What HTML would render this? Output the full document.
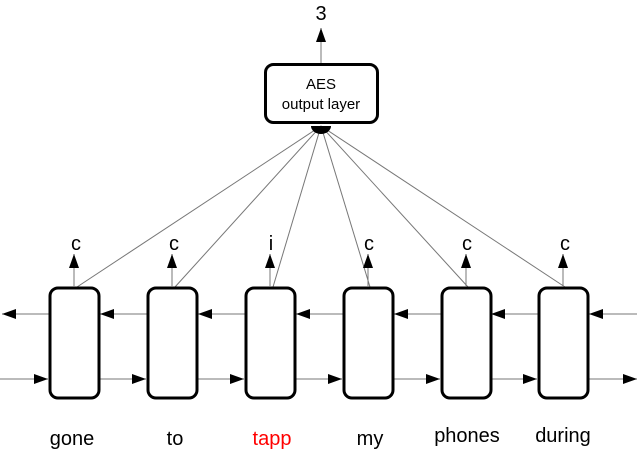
<!DOCTYPE html>
<html><head><style>body{margin:0;background:#fff}svg{display:block}</style></head><body>
<svg width="640" height="454" viewBox="0 0 640 454" xmlns="http://www.w3.org/2000/svg" font-family="Liberation Sans, sans-serif">
<defs>
<marker id="a" markerWidth="10" markerHeight="8" refX="10" refY="4" orient="auto" markerUnits="userSpaceOnUse"><path d="M0,0 L10,4 L0,8 z" fill="#000"/></marker>
<marker id="b" markerWidth="14" markerHeight="10" refX="14" refY="5" orient="auto" markerUnits="userSpaceOnUse"><path d="M0,0 L14,5 L0,10 z" fill="#000"/></marker>
</defs>
<g stroke="#777" stroke-width="1">
<line x1="321" y1="126" x2="77" y2="287"/>
<line x1="321" y1="126" x2="175" y2="287"/>
<line x1="321" y1="126" x2="273" y2="287"/>
<line x1="321" y1="126" x2="370" y2="287"/>
<line x1="321" y1="126" x2="468" y2="287"/>
<line x1="321" y1="126" x2="565" y2="287"/>
</g>
<path d="M311,126 A10,8 0 0 0 331,126 Z" fill="#000"/>
<rect x="265.5" y="64.5" width="112" height="58" rx="8" fill="#fff" stroke="#000" stroke-width="3"/>
<text x="321" y="89" font-size="15" text-anchor="middle">AES</text>
<text x="321" y="109" font-size="15" text-anchor="middle">output layer</text>
<line x1="321" y1="63" x2="321" y2="28" stroke="#777" marker-end="url(#b)"/>
<text x="321" y="20" font-size="20" text-anchor="middle">3</text>
<g stroke="#777" stroke-width="1" fill="none">
<line x1="49" y1="314" x2="2" y2="314" marker-end="url(#b)"/>
<line x1="147" y1="314" x2="100" y2="314" marker-end="url(#b)"/>
<line x1="245" y1="314" x2="198" y2="314" marker-end="url(#b)"/>
<line x1="343" y1="314" x2="296" y2="314" marker-end="url(#b)"/>
<line x1="441" y1="314" x2="394" y2="314" marker-end="url(#b)"/>
<line x1="538" y1="314" x2="491" y2="314" marker-end="url(#b)"/>
<line x1="637" y1="314" x2="589" y2="314" marker-end="url(#b)"/>
<line x1="0" y1="379" x2="48" y2="379" marker-end="url(#b)"/>
<line x1="100" y1="379" x2="146" y2="379" marker-end="url(#b)"/>
<line x1="198" y1="379" x2="244" y2="379" marker-end="url(#b)"/>
<line x1="296" y1="379" x2="342" y2="379" marker-end="url(#b)"/>
<line x1="394" y1="379" x2="440" y2="379" marker-end="url(#b)"/>
<line x1="491" y1="379" x2="537" y2="379" marker-end="url(#b)"/>
<line x1="589" y1="379" x2="637" y2="379" marker-end="url(#b)"/>
</g>
<g fill="#fff" stroke="#000" stroke-width="3">
<rect x="50" y="288" width="49" height="110" rx="8"/>
<rect x="148" y="288" width="49" height="110" rx="8"/>
<rect x="246" y="288" width="49" height="110" rx="8"/>
<rect x="344" y="288" width="49" height="110" rx="8"/>
<rect x="442" y="288" width="49" height="110" rx="8"/>
<rect x="539" y="288" width="49" height="110" rx="8"/>
</g>
<g stroke="#777" fill="none">
<line x1="74" y1="287" x2="74" y2="254" marker-end="url(#b)"/>
<line x1="172" y1="287" x2="172" y2="254" marker-end="url(#b)"/>
<line x1="270" y1="287" x2="270" y2="254" marker-end="url(#b)"/>
<line x1="368" y1="287" x2="368" y2="254" marker-end="url(#b)"/>
<line x1="466" y1="287" x2="466" y2="254" marker-end="url(#b)"/>
<line x1="563" y1="287" x2="563" y2="254" marker-end="url(#b)"/>
</g>
<g font-size="20" text-anchor="middle">
<text x="76" y="250">c</text><text x="174" y="250">c</text><text x="271" y="250">i</text>
<text x="369" y="250">c</text><text x="467" y="250">c</text><text x="565" y="250">c</text>
<text x="72" y="445">gone</text><text x="175" y="445">to</text>
<text x="272" y="445" fill="#f00">tapp</text><text x="370" y="445">my</text>
<text x="467" y="442">phones</text><text x="563" y="442">during</text>
</g>
</svg>
</body></html>
